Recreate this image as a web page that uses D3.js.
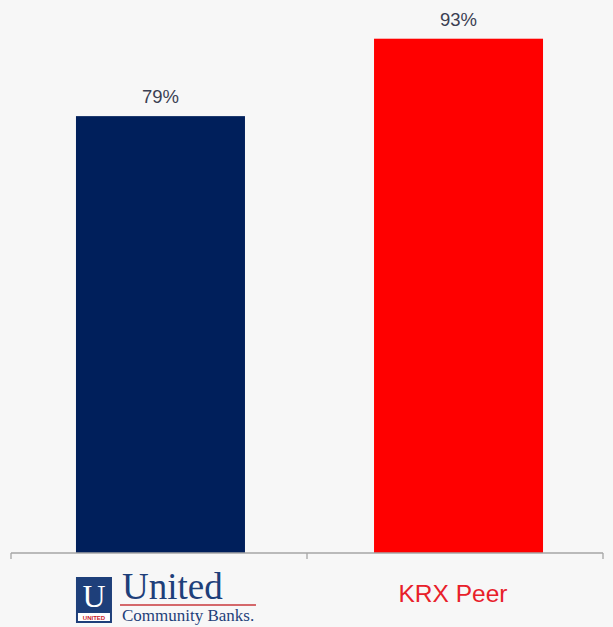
<!DOCTYPE html>
<html>
<head>
<meta charset="utf-8">
<script src="https://cdn.jsdelivr.net/npm/d3@7/dist/d3.min.js"></script>
<style>
  html, body { margin: 0; padding: 0; background: #f7f7f7; }
  svg { display: block; }
</style>
</head>
<body>
<svg id="chart" width="613" height="627"></svg>
<script>
// Chart data
const categories = ["United Community Banks", "KRX Peer"];
const values = [79, 93];
const valueLabels = ["79%", "93%"];
const barColors = ["#001f5b", "#ff0000"];

const width = 613, height = 627;
const margin = { top: 0, right: 10, bottom: 74, left: 11 };

const svg = d3.select("#chart");
svg.append("rect").attr("width", width).attr("height", height).attr("fill", "#f7f7f7");

const x = d3.scaleBand()
  .domain(categories)
  .range([margin.left, 608])
  .paddingInner(0.433)
  .paddingOuter(0.218);

const y = d3.scaleLinear()
  .domain([0, 100])
  .range([height - margin.bottom, margin.top]);

const baseY = y(0);

// Bars
svg.selectAll("rect.bar")
  .data(values)
  .enter().append("rect")
  .attr("class", "bar")
  .attr("x", (d, i) => x(categories[i]))
  .attr("y", d => y(d))
  .attr("width", x.bandwidth())
  .attr("height", d => baseY - y(d))
  .attr("fill", (d, i) => barColors[i]);

// Value labels
svg.selectAll("text.val")
  .data(values)
  .enter().append("text")
  .attr("class", "val")
  .attr("x", (d, i) => x(categories[i]) + x.bandwidth() / 2)
  .attr("y", d => y(d) - 13)
  .attr("text-anchor", "middle")
  .attr("font-family", "Liberation Sans, Arial, sans-serif")
  .attr("font-size", 18.5)
  .attr("fill", "#3b3f52")
  .text((d, i) => valueLabels[i]);

// Category axis: baseline with ticks at band boundaries
const axisG = svg.append("g").attr("stroke", "#a6a6a6").attr("stroke-width", 1.3);
const x0 = margin.left, x1 = width - margin.right;
axisG.append("line").attr("x1", x0).attr("x2", x1).attr("y1", baseY).attr("y2", baseY);
const step = (x1 - x0) / categories.length;
d3.range(categories.length + 1).forEach(i => {
  const tx = x0 + i * step;
  axisG.append("line").attr("x1", tx).attr("x2", tx).attr("y1", baseY).attr("y2", baseY + 6);
});

// Second category label
svg.append("text")
  .attr("x", 453)
  .attr("y", 602)
  .attr("text-anchor", "middle")
  .attr("font-family", "Liberation Sans, Arial, sans-serif")
  .attr("font-size", 24.5)
  .attr("fill", "#e8202a")
  .text(categories[1]);

// First category label drawn as the bank's wordmark
const logo = svg.append("g").attr("transform", `translate(${x(categories[0])},0)`);
logo.append("rect").attr("x", 0).attr("y", 577).attr("width", 36).attr("height", 46).attr("fill", "#1e3f7a");
logo.append("text").attr("x", 18).attr("y", 607).attr("text-anchor", "middle")
  .attr("font-family", "Liberation Serif, Times New Roman, serif").attr("font-size", 32)
  .attr("fill", "#ffffff").text("U");
logo.append("rect").attr("x", 2).attr("y", 613).attr("width", 32).attr("height", 8).attr("fill", "#ffffff");
logo.append("text").attr("x", 18).attr("y", 619.5).attr("text-anchor", "middle")
  .attr("font-family", "Liberation Sans, Arial, sans-serif").attr("font-size", 6).attr("font-weight", "bold")
  .attr("fill", "#c8202a").text("UNITED");
logo.append("text").attr("x", 46).attr("y", 599)
  .attr("font-family", "Liberation Serif, Times New Roman, serif").attr("font-size", 37)
  .attr("fill", "#1e3f7a").text("United");
logo.append("line").attr("x1", 44).attr("x2", 180).attr("y1", 605).attr("y2", 605)
  .attr("stroke", "#c8383c").attr("stroke-width", 1.5);
logo.append("text").attr("x", 46).attr("y", 621)
  .attr("font-family", "Liberation Serif, Times New Roman, serif").attr("font-size", 17)
  .attr("fill", "#1e3f7a").text("Community Banks.");
</script>
</body>
</html>
